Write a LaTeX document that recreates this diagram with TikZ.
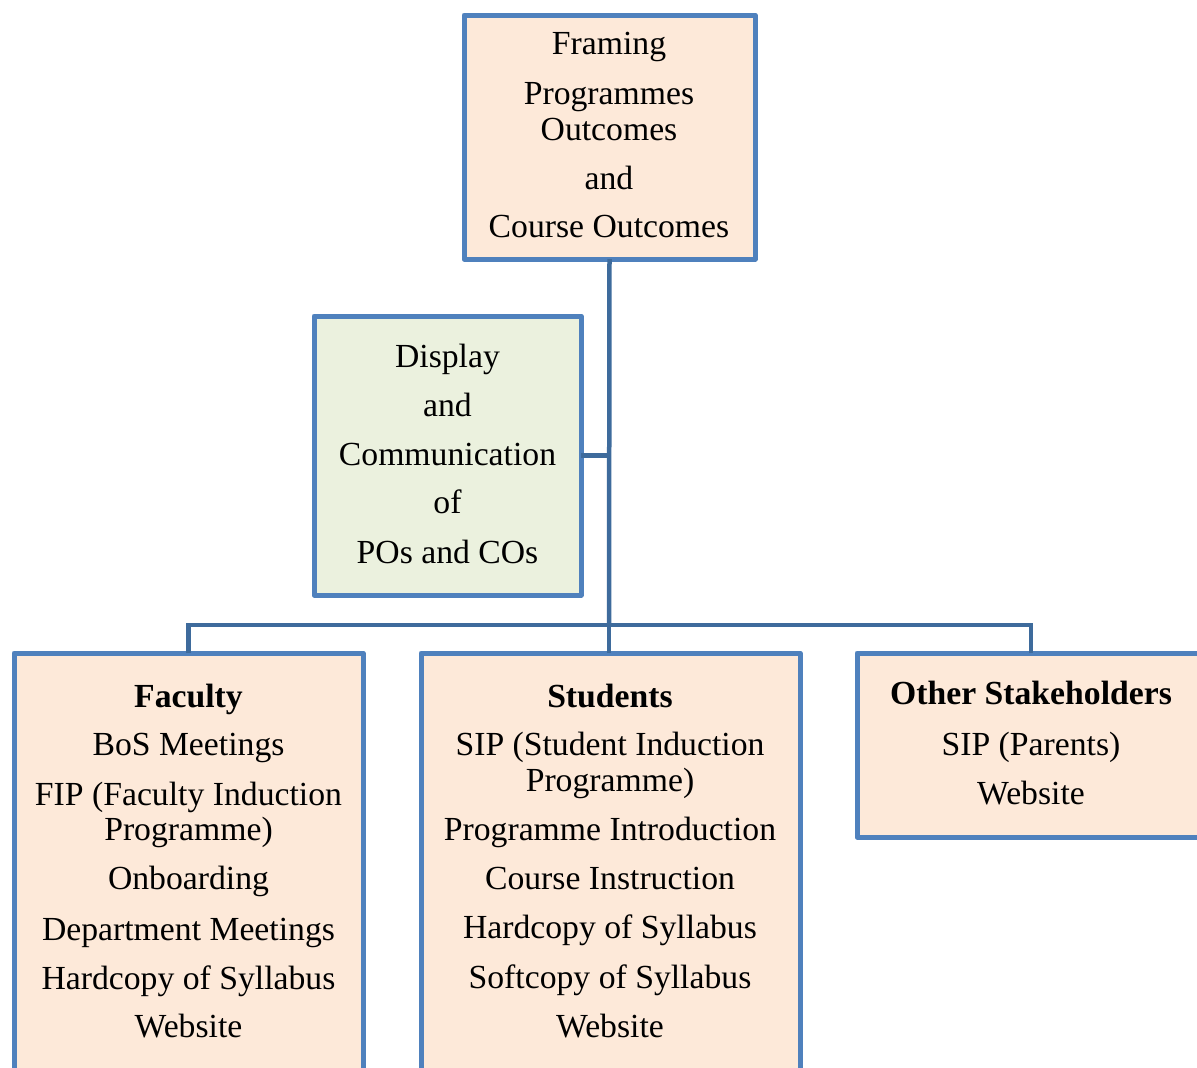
\documentclass[tikz,border=0pt]{standalone}
\usepackage{fontspec}
\setmainfont{Liberation Serif}
\definecolor{peach}{HTML}{FDE9D9}
\definecolor{paleg}{HTML}{EBF1DE}
\definecolor{bord}{HTML}{4F81BD}
\definecolor{conn}{HTML}{3E6B9C}
\begin{document}
\begin{tikzpicture}[x=1pt,y=-1pt,
  box/.style={draw=bord, line width=5pt, line join=round, anchor=north west, inner sep=0pt, outer sep=0pt},
  lbl/.style={anchor=base, inner sep=0pt, font=\fontsize{33.7}{40}\selectfont},
  link/.style={draw=conn, line width=4.5pt}]
\useasboundingbox (0,0) rectangle (1197,1068);
\clip (0,0) rectangle (1197,1068);
% boxes
\node[box, fill=peach, minimum width=291pt, minimum height=244pt] (top) at (464,15) {};
\node[box, fill=paleg, minimum width=267pt, minimum height=279pt] (disp) at (314,316) {};
\node[box, fill=peach, minimum width=349pt, minimum height=440pt] (fac) at (14,653) {};
\node[box, fill=peach, minimum width=379pt, minimum height=440pt] (stu) at (421,653) {};
\node[box, fill=peach, minimum width=348pt, minimum height=184pt] (oth) at (857,653) {};
% connectors
\coordinate (j) at (609,625);
\draw[link] (top.south) -- (j);
\draw[link] (disp.east) -- (disp.east -| top.south);
\draw[link] (j) -| (fac.north);
\draw[link] (j) -| (oth.north);
\draw[link] (j) -- (j |- stu.north);
% texts
\foreach \y/\t [count=\i] in {54/Framing,104/Programmes,140/Outcomes,189/and,237/Course Outcomes}
  \node[lbl] (tt\i) at (609,\y) {\t};
\foreach \y/\t [count=\i] in {367/Display,416/and,465/Communication,513/of,563/POs and COs}
  \node[lbl] (dt\i) at (447.5,\y) {\t};
\foreach \y/\t [count=\i] in {707/\textbf{Faculty},755/BoS Meetings,805/FIP (Faculty Induction,840/Programme),889/Onboarding,940/Department Meetings,989/Hardcopy of Syllabus,1037/Website}
  \node[lbl] (ft\i) at (188.5,\y) {\t};
\foreach \y/\t [count=\i] in {707/\textbf{Students},755/SIP (Student Induction,791/Programme),840/Programme Introduction,889/Course Instruction,938/Hardcopy of Syllabus,988/Softcopy of Syllabus,1037/Website}
  \node[lbl] (st\i) at (610,\y) {\t};
\foreach \y/\t [count=\i] in {704/\textbf{Other Stakeholders},755/SIP (Parents),804/Website}
  \node[lbl] (ot\i) at (1031,\y) {\t};
\end{tikzpicture}
\end{document}
